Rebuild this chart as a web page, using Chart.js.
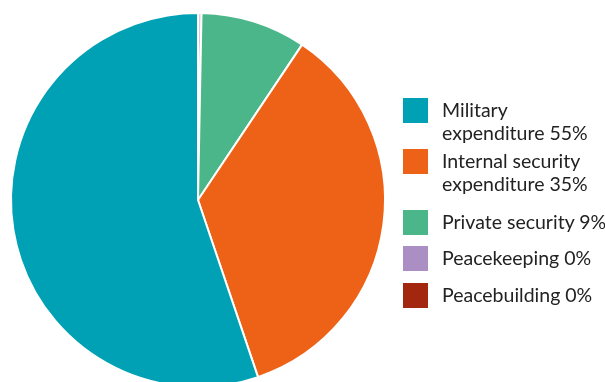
<!DOCTYPE html>
<html>
<head>
<meta charset="utf-8">
<script src="https://cdn.jsdelivr.net/npm/chart.js@4"></script>
<style>
  html, body { margin: 0; padding: 0; background: #fff; overflow: hidden; }
  #wrap { position: relative; width: 605px; height: 382px; overflow: hidden; }
  #myChart { position: absolute; left: 0; top: 0; }
  #legend { position: absolute; left: 403px; top: 0; font-family: Lato, sans-serif; font-size: 19.5px; line-height: 23px; color: #222; }
  .item { position: absolute; left: 0; white-space: nowrap; }
  .box { position: absolute; left: 0; top: 0; width: 25px; height: 25px; }
  .txt { position: absolute; left: 39px; top: 0; }
  .item:nth-child(1) { top: 98px; }
  .item:nth-child(2) { top: 149px; }
  .item:nth-child(3) { top: 210px; }
  .item:nth-child(4) { top: 246px; }
  .item:nth-child(5) { top: 283px; }
</style>
</head>
<body>
<div id="wrap">
  <canvas id="myChart" width="605" height="400"></canvas>
  <div id="legend"></div>
</div>
<script>
// spending categories, legend order
var labels = [["Military", "expenditure"], ["Internal security", "expenditure"], ["Private security"], ["Peacekeeping"], ["Peacebuilding"]];
var shares = [55.2, 35.4, 9.1, 0.25, 0.05]; // percent of total
var colors = ["#00a0b5", "#ed6216", "#4bb68a", "#ab8fc4", "#a3260f"];

// legend, built as html so the two-line labels wrap like the original
var legend = document.getElementById("legend");
labels.forEach(function (lines, i) {
  var item = document.createElement("div");
  item.className = "item";
  var box = document.createElement("div");
  box.className = "box";
  box.style.background = colors[i];
  var txt = document.createElement("div");
  txt.className = "txt";
  var words = lines.slice();
  words[words.length - 1] += " " + Math.round(shares[i]) + "%";
  txt.innerHTML = words.join("<br>");
  item.appendChild(box);
  item.appendChild(txt);
  legend.appendChild(item);
});

// pie is drawn clockwise from the top, smallest slices first
var ctx = document.getElementById("myChart").getContext("2d");
var myChart = new Chart(ctx, {
  type: "pie",
  data: {
    labels: labels.map(function (l) { return l.join(" "); }).reverse(),
    datasets: [
      {
        data: shares.slice().reverse(),
        backgroundColor: colors.slice().reverse(),
        borderColor: "#ffffff",
        borderWidth: 2,
      },
    ],
  },
  options: {
    responsive: false,
    animation: false,
    layout: { padding: { left: 10, top: 12, right: 219, bottom: 12 } },
    plugins: {
      legend: { display: false },
      tooltip: { enabled: false },
    },
  },
});
</script>
</body>
</html>
